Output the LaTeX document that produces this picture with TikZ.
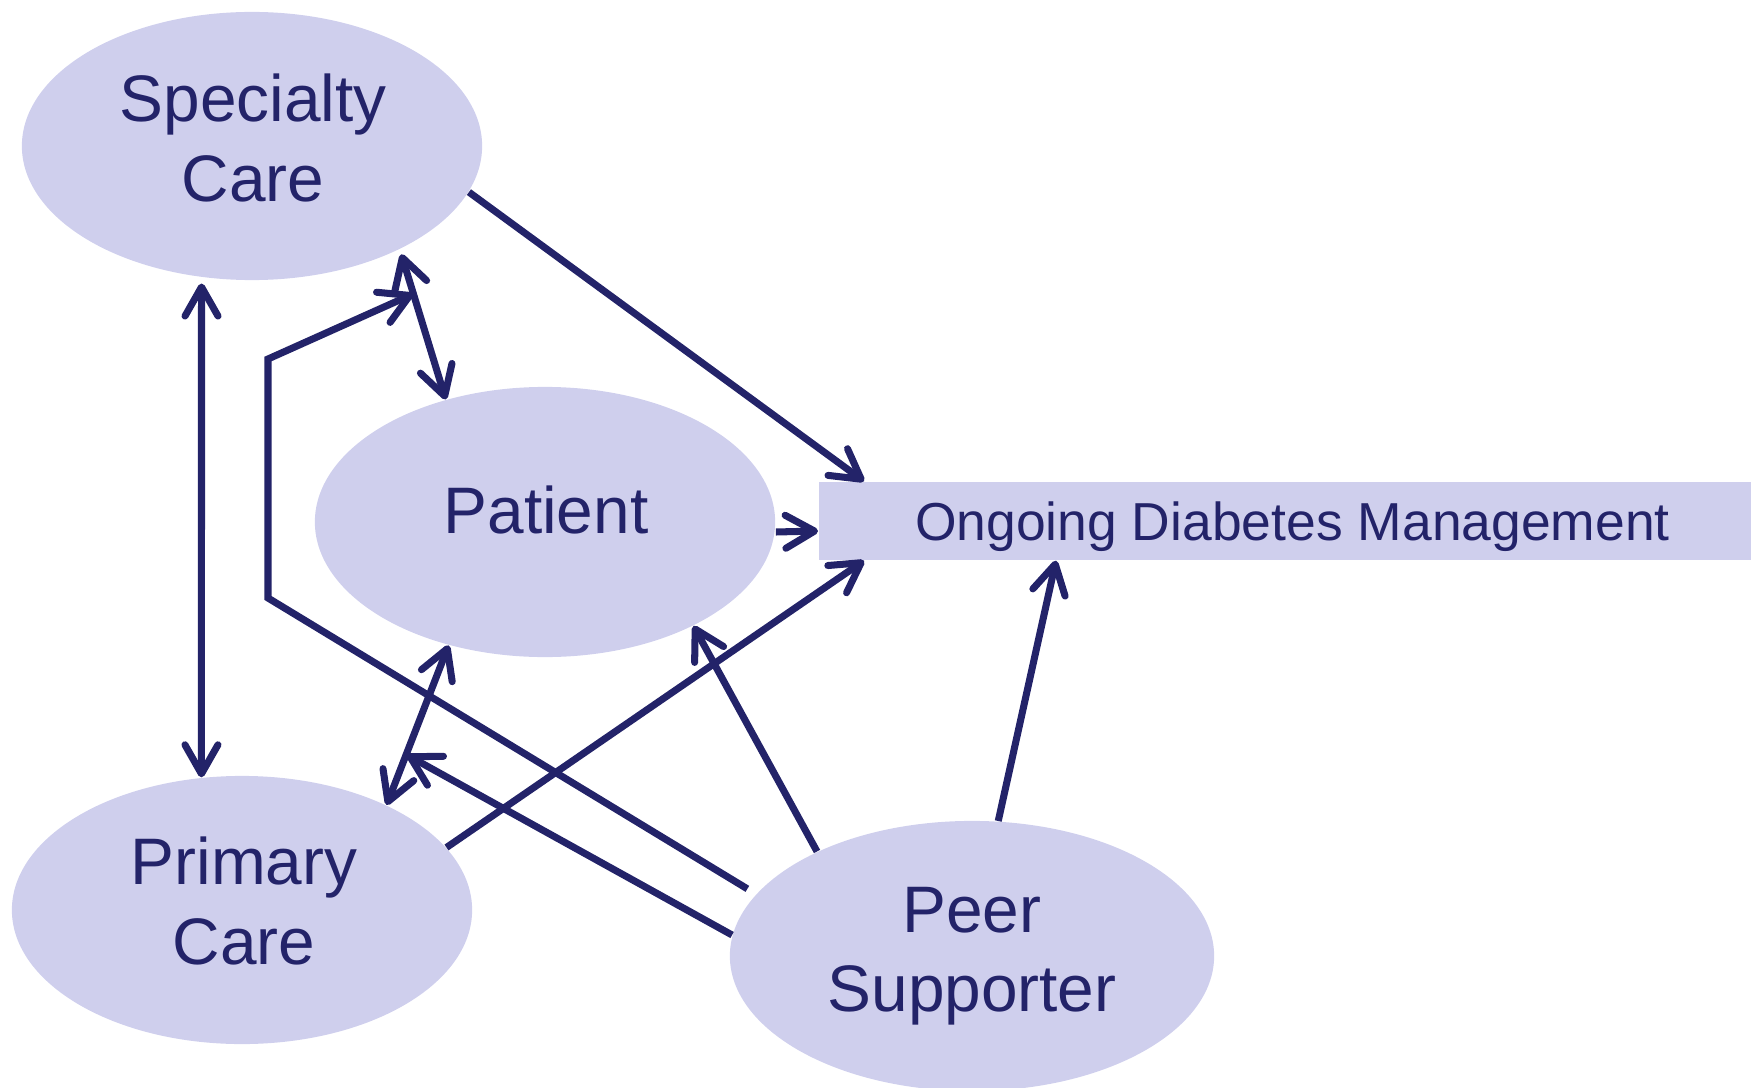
\documentclass[tikz,border=0pt]{standalone}
\usepackage{fontspec}
\setmainfont{Liberation Sans}
\usetikzlibrary{arrows.meta, shapes.geometric, calc}
\definecolor{navy}{HTML}{232369}
\definecolor{lilac}{HTML}{CFCFED}

\begin{document}
\begin{tikzpicture}[
    x=0.01cm, y=-0.01cm,
    barb/.tip={Straight Barb[length=2.9mm, width=3.3mm, round]},
    blob/.style={
        ellipse,
        fill=lilac,
        inner sep=0pt,
        minimum width=4.6cm,
        minimum height=2.68cm,
    },
    blobtext/.style={
        text=navy,
        align=center,
        font=\fontsize{18.7}{22.6}\selectfont,
    },
    band/.style={
        rectangle,
        fill=lilac,
        text=navy,
        minimum width=9.47cm,
        minimum height=0.78cm,
        text height=0.386cm,
        text depth=0pt,
        font=\fontsize{15.2}{18}\selectfont,
    },
    link/.style={
        draw=navy,
        line width=2pt,
        -barb,
    },
    twoway/.style={
        link,
        barb-barb,
    }
]
    \useasboundingbox (0,0) rectangle (1751,1088);

    % Care team
    \node[blob] (spec) at (252,146) {};
    \node[blob, minimum height=2.7cm] (pat) at (545,522) {};
    \node[blob] (prim) at (242,910) {};
    \node[blob, minimum width=4.84cm, minimum height=2.7cm] (peer) at (972,956) {};
    \node[band] (manage) at (1292.5,521) {Ongoing Diabetes Management};

    % Labels
    \node[blobtext] (spectxt) at ($(spec)+(1,-8)$) {Specialty\\Care};
    \node[blobtext] (pattxt) at ($(pat)+(1,-12)$) {Patient};
    \node[blobtext] (primtxt) at ($(prim)+(2,-9)$) {Primary\\Care};
    \node[blobtext] (peertxt) at (peer) {Peer\\Supporter};

    % Free ends and bends
    \coordinate (primtip) at ($(prim)+(165,-155)$);
    \coordinate (bendlow) at (268,598);
    \coordinate (bendhigh) at (268,359);
    \coordinate (spectip) at ($(spec)+(161,148)$);

    % Connections
    \draw[twoway, shorten <=0.06cm] (spec.249) -- (prim.107);
    \draw[twoway, shorten <=0.05cm] (spec.325) -- (pat.129);
    \draw[link] (spec.348) -- ($(manage.north west)+(46,0)$);
    \draw[link] ($(pat.east)+(0,10)$) -- ($(manage.west)+(0,10)$);
    \draw[twoway] (pat.232) -- (prim.36);
    \draw[link] (prim.17) -- ($(manage.south west)+(46,0)$);
    \draw[link] (peer.79) -- ($(manage.south west)+(238,0)$);
    \draw[link] (peer.146) -- (pat.325);
    \draw[link] (peer.175) -- (primtip);
    \draw[link, shorten <=0.1cm] (peer.164) -- (bendlow) -- (bendhigh) -- (spectip);
\end{tikzpicture}
\end{document}
